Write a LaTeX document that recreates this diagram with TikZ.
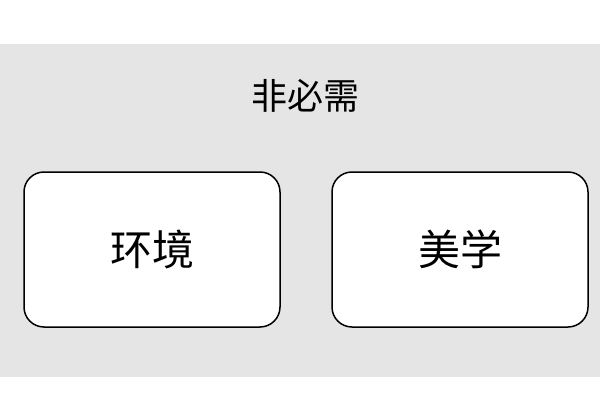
\documentclass[tikz,border=0pt]{standalone}
\usepackage{fontspec}
\setmainfont{Noto Sans CJK SC}
\begin{document}
\begin{tikzpicture}[x=1pt,y=-1pt,
  panel/.style={fill=black!10,draw=none},
  itembox/.style={draw=black,line width=1.5pt,fill=white,rounded corners=20pt,minimum width=256pt,minimum height=155pt,inner sep=0pt,font=\fontsize{42}{46}\selectfont},
  titletext/.style={font=\fontsize{36}{40}\selectfont,inner sep=0pt}]
\useasboundingbox (0,0) rectangle (600,420);
\fill[white] (0,0) rectangle (600,420);
\path[panel] (0,44) rectangle (600,377);
\node[titletext] (title) at (305,96) {非必需};
\node[itembox] (env) at (152,249.5) {环境};
\node[itembox] (aes) at (460,249.5) {美学};
\end{tikzpicture}
\end{document}
